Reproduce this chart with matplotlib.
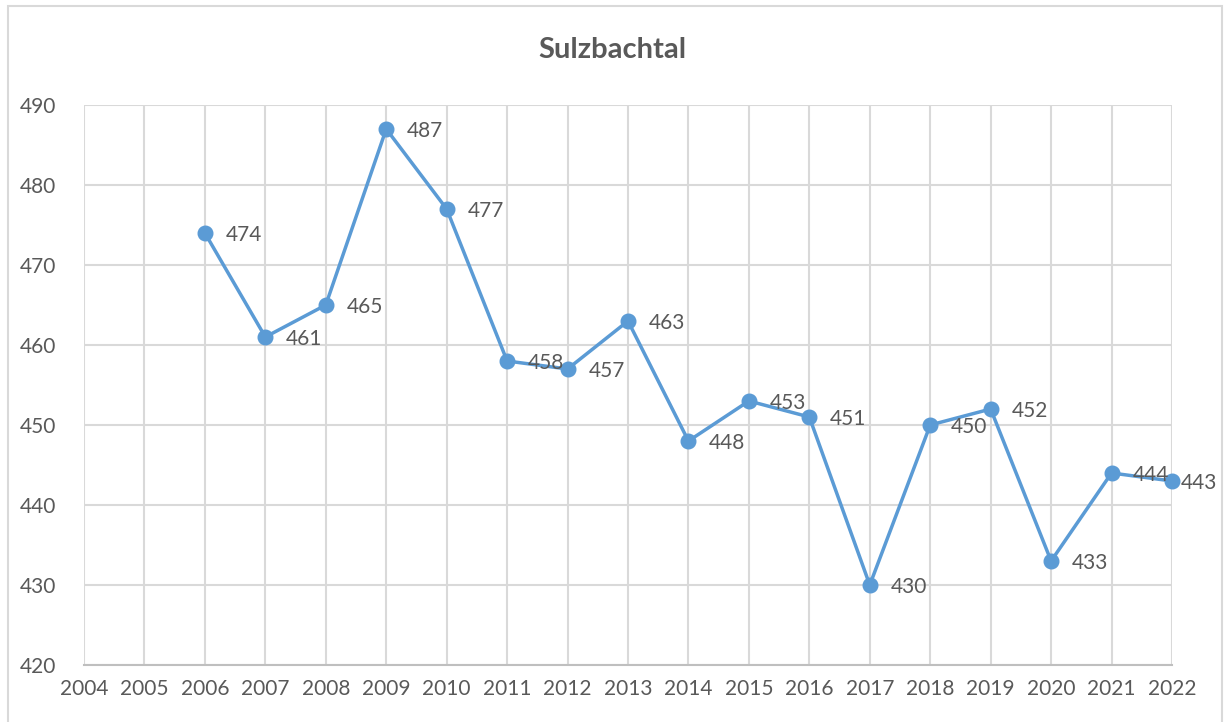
import matplotlib.pyplot as plt
from matplotlib.patches import Rectangle

# Daten
jahre_achse = list(range(2004, 2023))
jahre = [2006, 2007, 2008, 2009, 2010, 2011, 2012, 2013, 2014,
         2015, 2016, 2017, 2018, 2019, 2020, 2021, 2022]
werte = [474, 461, 465, 487, 477, 458, 457, 463, 448,
         453, 451, 430, 450, 452, 433, 444, 443]

plt.rcParams['font.family'] = ['Lato', 'DejaVu Sans']
grau = '#595959'
blau = '#5B9BD5'

fig = plt.figure(figsize=(12.25, 7.22), dpi=100)
ax = fig.add_axes([84 / 1225, 1 - 665 / 722, (1172 - 84) / 1225, (665 - 105) / 722])

# Rahmen um das Diagramm
fig.patches.append(Rectangle((8 / 1225, -0.02), (1222 - 8) / 1225, 1 - 6 / 722 + 0.02,
                             transform=fig.transFigure, fill=False,
                             edgecolor='#d9d9d9', linewidth=1.5))

ax.plot(jahre, werte, color=blau, linewidth=2.5, marker='o', markersize=10.5, zorder=3,
        clip_on=False)
for x, y in zip(jahre, werte):
    dx = 6 if x == jahre[-1] else 15
    ax.annotate(str(y), (x, y), xytext=(dx, -1.5), textcoords='offset points',
                ha='left', va='center', fontsize=15, color=grau,
                annotation_clip=False)

ax.set_xlim(2004, 2022)
ax.set_ylim(420, 490)
ax.set_xticks(jahre_achse)
ax.set_yticks(range(420, 491, 10))
ax.grid(True, color='#d9d9d9', linewidth=1.5)
ax.set_axisbelow(True)
for s in ['top', 'right', 'left']:
    ax.spines[s].set_visible(False)
ax.spines['bottom'].set_color('#bfbfbf')
ax.spines['bottom'].set_linewidth(1.5)
ax.tick_params(length=0, labelsize=15, labelcolor=grau)
ax.tick_params(axis='x', pad=10)
ax.tick_params(axis='y', pad=20)

fig.text(0.5, 1 - 50 / 722, 'Sulzbachtal', ha='center', va='center',
         fontsize=21, fontweight='bold', color=grau)

fig.savefig('out.png', dpi=100)
